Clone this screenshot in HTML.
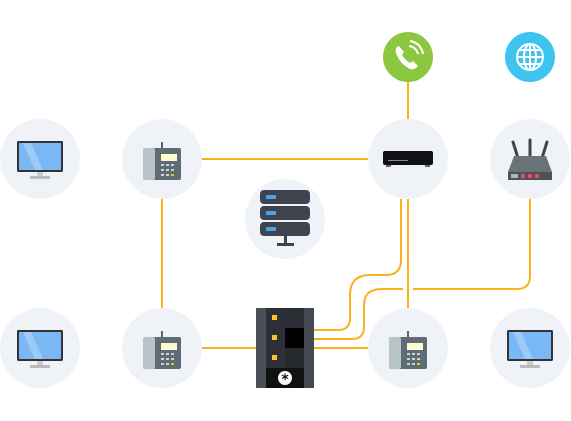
<!DOCTYPE html>
<html><head><meta charset="utf-8"><style>
html,body{margin:0;padding:0;background:#fff;width:571px;height:421px;overflow:hidden}
</style></head><body>
<svg width="571" height="421" viewBox="0 0 571 421" xmlns="http://www.w3.org/2000/svg">
<defs>
<g id="mon">
  <rect x="-23" y="-18" width="46" height="31" rx="1.5" fill="#333"/>
  <rect x="-21" y="-16" width="42" height="27" fill="#7ab8f5"/>
  <path d="M-17,-16 L-9,-16 L3,11 L-5,11Z" fill="#9dcbf8"/>
  <rect x="-3" y="13" width="6" height="4" fill="#ccc"/>
  <rect x="-10" y="17" width="20" height="3" fill="#bbb"/>
</g>
<g id="phone">
  <rect x="-1" y="-19" width="2" height="8" fill="#5a6470"/>
  <rect x="-19" y="-13" width="38" height="32" rx="2" fill="#5f6b75"/>
  <rect x="-19" y="-13" width="12" height="32" rx="2" fill="#b8c4c8"/>
  <rect x="-1" y="-7" width="16" height="7" fill="#fffbd0"/>
  <g fill="#c9d2d6">
    <rect x="-1" y="3" width="3" height="2"/><rect x="4" y="3" width="3" height="2"/><rect x="9" y="3" width="3" height="2"/>
    <rect x="-1" y="8" width="3" height="2"/><rect x="4" y="8" width="3" height="2"/><rect x="9" y="8" width="3" height="2"/>
    <rect x="-1" y="13" width="3" height="2"/><rect x="4" y="13" width="3" height="2"/>
  </g>
  <rect x="9" y="13" width="3" height="2" fill="#f5c400"/>
</g>
</defs>
<g fill="none" stroke="#fbb21a" stroke-width="2">
  <line x1="202" y1="159" x2="368" y2="159"/>
  <line x1="162" y1="199" x2="162" y2="308"/>
  <line x1="202" y1="348" x2="256" y2="348"/>
  <line x1="314" y1="348" x2="368" y2="348"/>
  <line x1="408" y1="82" x2="408" y2="119"/>
  <line x1="408" y1="199" x2="408" y2="308"/>
  <path d="M401,199 L401,260 Q401,275 386,275 L370,275 Q350,275 350,295 L350,318 Q350,330 338,330 L314,330"/>
  <path d="M530,199 L530,276 Q530,289 517,289 L413,289 M403,289 L382,289 Q364,289 364,305 L364,327 Q364,339 352,339 L314,339"/>
</g>
<g fill="#eff3f8">
  <circle cx="40" cy="159" r="40"/><circle cx="162" cy="159" r="40"/>
  <circle cx="408" cy="159" r="40"/><circle cx="530" cy="159" r="40"/>
  <circle cx="285" cy="219" r="40"/>
  <circle cx="40" cy="348" r="40"/><circle cx="162" cy="348" r="40"/>
  <circle cx="408" cy="348" r="40"/><circle cx="530" cy="348" r="40"/>
</g>
<use href="#mon" x="40" y="159"/>
<use href="#mon" x="40" y="348"/>
<use href="#mon" x="530" y="348"/>
<use href="#phone" x="162" y="161"/>
<use href="#phone" x="162" y="350"/>
<use href="#phone" x="408" y="350"/>
<rect x="383" y="151" width="50" height="14" rx="2" fill="#111"/>
<rect x="388" y="160" width="20" height="1" fill="#888"/>
<rect x="386" y="165" width="5" height="2" fill="#666"/><rect x="425" y="165" width="5" height="2" fill="#666"/>
<g stroke="#444" stroke-width="3" stroke-linecap="round">
  <line x1="513" y1="142" x2="518" y2="158"/><line x1="530" y1="140" x2="530" y2="158"/><line x1="547" y1="142" x2="542" y2="158"/>
</g>
<path d="M514,156 L546,156 L552,172 L508,172Z" fill="#6b7278"/>
<rect x="508" y="172" width="44" height="8" fill="#4b5258"/>
<rect x="521" y="174" width="4" height="4" fill="#ea4a5a"/><rect x="528" y="174" width="4" height="4" fill="#ea4a5a"/><rect x="535" y="174" width="4" height="4" fill="#ea4a5a"/>
<rect x="511" y="174" width="7" height="4" fill="#a8b8c0"/>
<g>
  <rect x="260" y="190" width="50" height="14" rx="4" fill="#3e4350"/>
  <rect x="260" y="206" width="50" height="14" rx="4" fill="#3e4350"/>
  <rect x="260" y="222" width="50" height="14" rx="4" fill="#3e4350"/>
  <rect x="266" y="195" width="10" height="4" rx="1" fill="#4ea3e8"/>
  <rect x="266" y="211" width="10" height="4" rx="1" fill="#4ea3e8"/>
  <rect x="266" y="227" width="10" height="4" rx="1" fill="#4ea3e8"/>
  <rect x="284" y="236" width="3" height="8" fill="#3e4350"/>
  <rect x="277" y="243" width="17" height="3" fill="#3e4350"/>
</g>
<circle cx="408" cy="57" r="25" fill="#8dc63f"/>
<path d="M397,47 Q395,49 396,53 Q400,64 410,69 Q414,70 416,68 L418,66 L413,61 L410,63 Q405,60 402,55 L404,52 L399,46Z" fill="#fff"/>
<path d="M409,46 Q416,47 418,54" fill="none" stroke="#fff" stroke-width="2"/>
<path d="M410,41 Q421,43 423,54" fill="none" stroke="#fff" stroke-width="2"/>
<circle cx="530" cy="57" r="25" fill="#3fc3f1"/>
<g fill="none" stroke="#fff" stroke-width="2">
  <circle cx="530" cy="57" r="13"/><ellipse cx="530" cy="57" rx="6" ry="13"/>
  <line x1="517" y1="57" x2="543" y2="57"/><line x1="530" y1="44" x2="530" y2="70"/>
  <line x1="519" y1="50" x2="541" y2="50"/><line x1="519" y1="64" x2="541" y2="64"/>
</g>
<rect x="256" y="308" width="58" height="80" fill="#3a3d44"/>
<rect x="256" y="308" width="10" height="80" fill="#4b4f58"/>
<rect x="304" y="308" width="10" height="80" fill="#444851"/>
<rect x="266" y="308" width="19" height="60" fill="#2c2f35"/>
<rect x="285" y="308" width="19" height="20" fill="#2a2d33"/>
<rect x="285" y="328" width="19" height="20" fill="#000"/>
<rect x="285" y="348" width="19" height="20" fill="#25282d"/>
<rect x="266" y="368" width="38" height="20" fill="#111"/>
<rect x="272" y="315" width="5" height="5" fill="#f7c52b"/>
<rect x="272" y="335" width="5" height="5" fill="#f7c52b"/>
<rect x="272" y="355" width="5" height="5" fill="#f7c52b"/>
<circle cx="285" cy="378" r="7" fill="#fff"/>
<text x="285" y="384" font-family="DejaVu Sans,sans-serif" font-size="14" font-weight="bold" fill="#111" text-anchor="middle">*</text>
</svg>
</body></html>
